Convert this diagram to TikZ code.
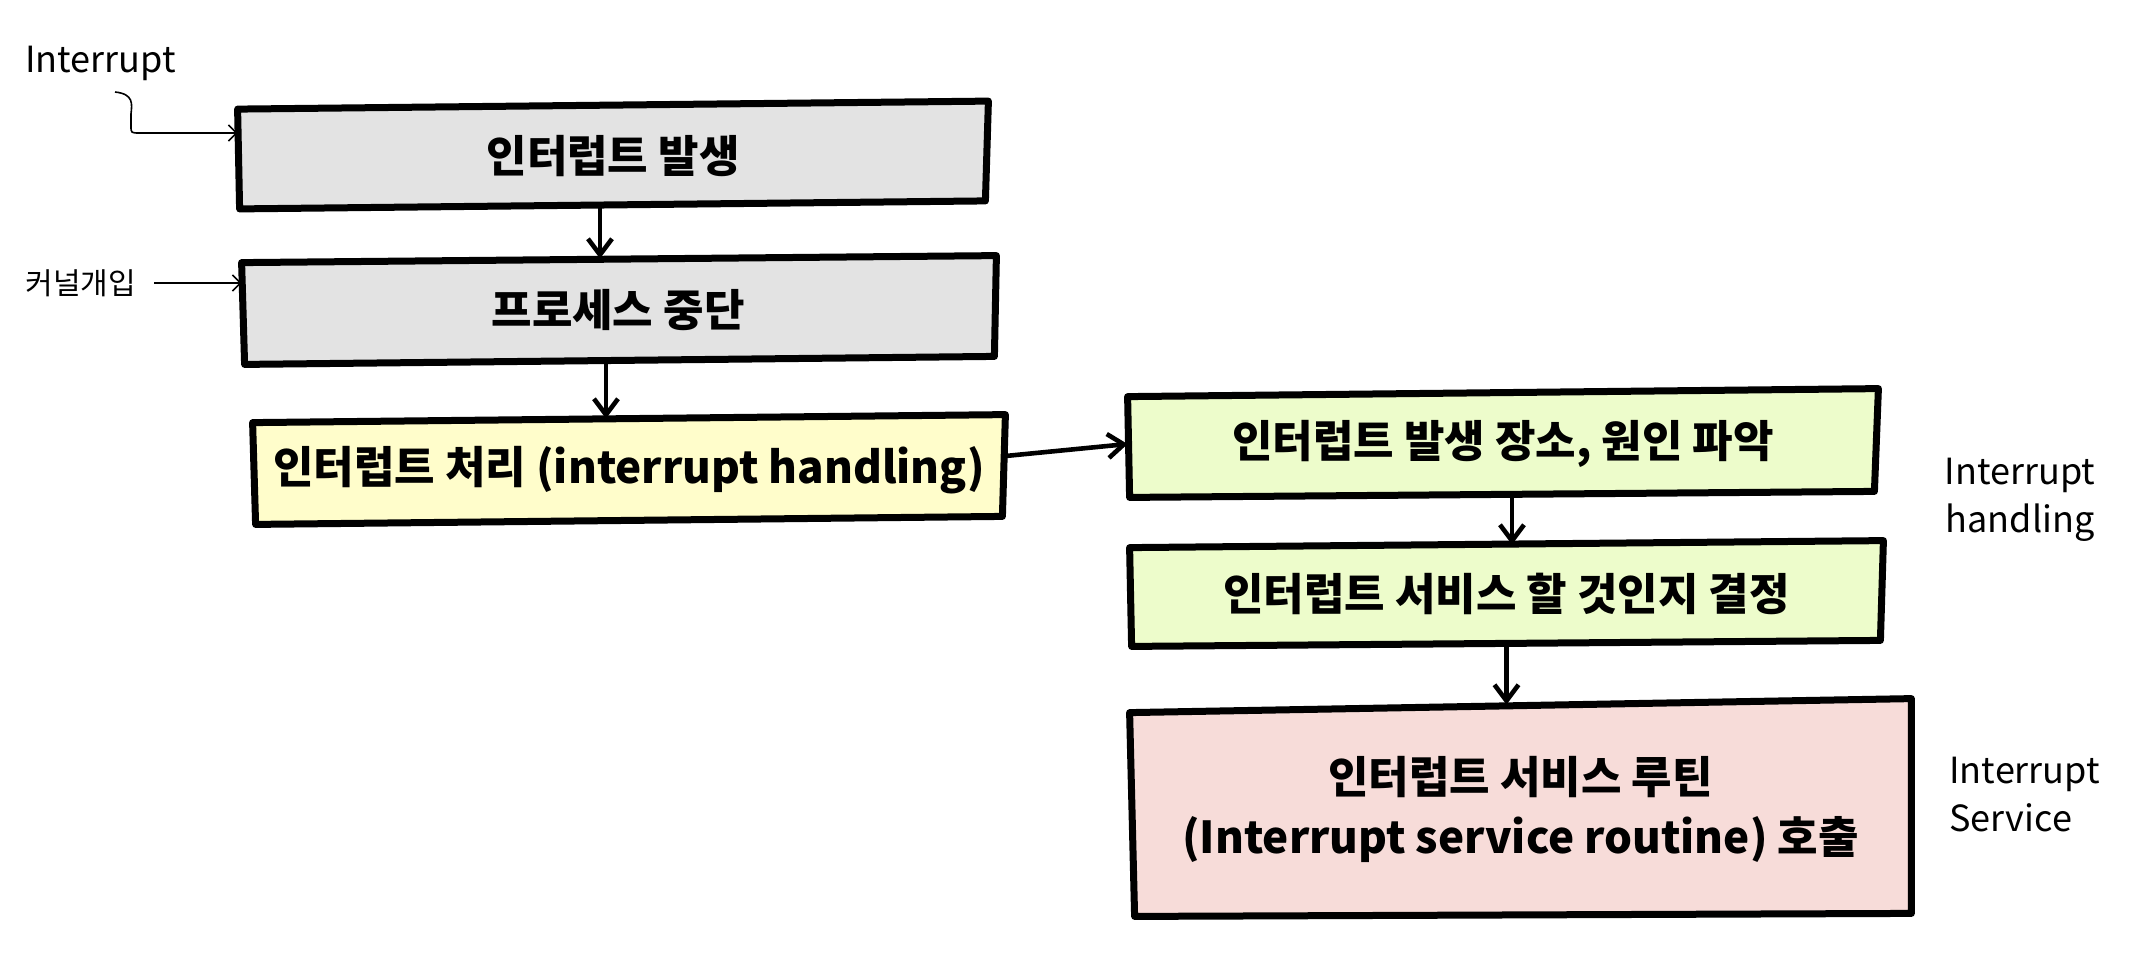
\documentclass[tikz,border=0pt]{standalone}
\usepackage{fontspec}
\setmainfont{Noto Sans CJK KR}
\usetikzlibrary{arrows.meta,backgrounds}
\definecolor{boxgray}{HTML}{E3E3E3}
\definecolor{boxyellow}{HTML}{FFFDCB}
\definecolor{boxgreen}{HTML}{EDFCCB}
\definecolor{boxpink}{HTML}{F7DCD9}
\newcommand\sketchbox[6]{%
  \begin{scope}[on background layer]
    \filldraw[boxline, fill=#2] ([shift={#3}]#1.north west) -- ([shift={#4}]#1.north east)
      -- ([shift={#5}]#1.south east) -- ([shift={#6}]#1.south west) -- cycle;
  \end{scope}}
\begin{document}
\begin{tikzpicture}[x=0.5pt,y=-0.5pt,
  stepbox/.style={inner sep=0pt, font=\fontsize{22}{30}\selectfont\bfseries, align=center},
  boxline/.style={line width=3.5pt, line join=round, draw=black},
  flow/.style={line width=2.3pt, -{Straight Barb[length=8pt,width=12pt,line width=2.3pt]}},
  thinarrow/.style={line width=0.8pt, -{Straight Barb[length=4pt,width=8pt,line width=0.8pt]}},
  sidelabel/.style={font=\fontsize{18}{24}\selectfont, align=center, inner sep=0pt},
  smalllabel/.style={font=\fontsize{15}{18}\selectfont, inner sep=0pt}]
\begin{scope}[on background layer]
  \fill[white] (0,0) rectangle (2146,960);
\end{scope}
\useasboundingbox (0,0) rectangle (2146,960);

% boxes
\node[stepbox, minimum width=375pt, minimum height=50.5pt] (b1) at (613,156) {인터럽트 발생};
\node[stepbox, minimum width=376pt, minimum height=51pt] (b2) at (618,310) {프로세스 중단};
\node[stepbox, minimum width=376pt, minimum height=51pt] (b3) at (629,470) {인터럽트 처리 (interrupt handling)};
\node[stepbox, minimum width=375pt, minimum height=50pt] (b4) at (1503,444) {인터럽트 발생 장소, 원인 파악};
\node[stepbox, minimum width=376.5pt, minimum height=49pt] (b5) at (1506.5,594) {인터럽트 서비스 할 것인지 결정};
\node[stepbox, minimum width=390.5pt, minimum height=104pt] (b6) at (1520.5,809) {인터럽트 서비스 루틴\\(Interrupt service routine) 호출};

\sketchbox{b1}{boxgray}{(0,4)}{(0,-4)}{(-3,-6)}{(2,2)}
\sketchbox{b2}{boxgray}{(0,4)}{(2,-3)}{(0,-5)}{(3,3)}
\sketchbox{b3}{boxyellow}{(0,4)}{(0,-4)}{(-3,-5)}{(3,3)}
\sketchbox{b4}{boxgreen}{(0,3)}{(0,-5)}{(-4,-3)}{(2,3)}
\sketchbox{b5}{boxgreen}{(0,3)}{(0,-4)}{(-3,-3)}{(2,3)}
\sketchbox{b6}{boxpink}{(0,8)}{(0,-6)}{(0,0)}{(5,3)}

% side labels
\node[sidelabel, anchor=west] (lint) at (25,63) {Interrupt};
\node[smalllabel, anchor=west] (lker) at (25,283) {커널개입};
\node[sidelabel] (lhand) at (2020,500) {Interrupt\\handling};
\node[sidelabel, anchor=west, align=left] (lserv) at (1949,795) {Interrupt\\Service};

% side arrows
\coordinate (hk) at (140,133);
\draw[thinarrow] (115,92) .. controls (134,94) and (132,104) .. (131,114) -- (131,126) .. controls (131,133) .. (hk) -- (hk -| b1.west);
\draw[thinarrow] ([xshift=9pt]lker.east) -- (lker.east -| b2.west);

% flow arrows
\draw[flow] ([xshift=-6.5pt]b1.south) -- ([xshift=-6.5pt]b1.south |- b2.north);
\draw[flow] ([xshift=-11.5pt]b3.north |- b2.south) -- ([xshift=-11.5pt]b3.north);
\draw[flow] ([yshift=7pt]b3.east) -- (b4.west);
\draw[flow] ([xshift=4.5pt]b4.south) -- ([xshift=4.5pt]b4.south |- b5.north);
\draw[flow] (b5.south) -- (b5.south |- b6.north);
\end{tikzpicture}
\end{document}
